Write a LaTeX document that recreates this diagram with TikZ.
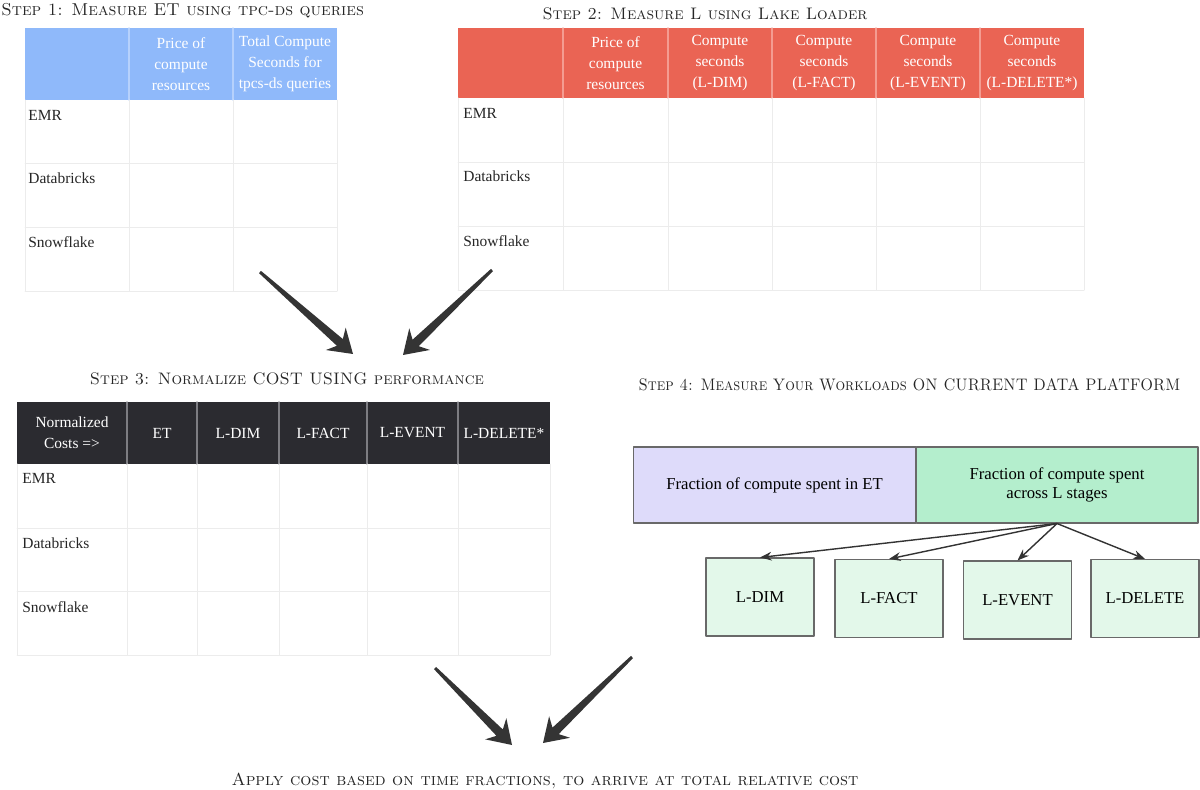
\documentclass[tikz,border=0pt]{standalone}
\usepackage{fontspec}
\newfontfamily\bodyfont{Liberation Serif}
\usetikzlibrary{arrows.meta,calc,positioning}
\definecolor{hdrblue}{RGB}{143,185,250}
\definecolor{sepblue}{RGB}{182,209,252}
\definecolor{hdrred}{RGB}{234,100,84}
\definecolor{sepred}{RGB}{244,156,145}
\definecolor{hdrdark}{RGB}{43,43,48}
\definecolor{sepdark}{RGB}{125,125,130}
\definecolor{gridgray}{RGB}{236,236,236}
\definecolor{etfill}{RGB}{222,219,250}
\definecolor{lfill}{RGB}{180,238,205}
\definecolor{stagefill}{RGB}{227,248,234}
\definecolor{boxline}{RGB}{105,105,105}
\definecolor{arrowgray}{RGB}{52,52,52}

\newcommand{\fatarrow}[2]{%
  \coordinate (fa-h) at ($(#2)!0.35cm!(#1)$);
  \coordinate (fa-b) at ($(#2)!0.46cm!(#1)$);
  \fill[arrowgray] ($(#1)!0.03cm!90:(#2)$) -- ($(fa-h)!0.09cm!90:(#2)$) -- ($(fa-b)!0.3cm!90:(#2)$) -- (#2)
    -- ($(fa-b)!0.3cm!-90:(#2)$) -- ($(fa-h)!0.09cm!-90:(#2)$) -- ($(#1)!0.03cm!-90:(#2)$) -- cycle;}

\begin{document}
\begin{tikzpicture}[line cap=round,line join=round,>=Stealth,x=0.02cm,y=-0.02cm,
  steptitle/.style={font=\fontsize{9.5}{11}\selectfont\scshape,text=black!85,inner sep=0pt},
  hdrtext/.style={font=\bodyfont\fontsize{8.8}{12}\selectfont,text=white,align=center,inner sep=0pt},
  rowlabel/.style={font=\bodyfont\fontsize{8.8}{10}\selectfont,text=black!85,anchor=west,inner sep=0pt},
  gridline/.style={draw=gridgray,line width=0.5pt},
  fracbox/.style={draw=boxline,line width=0.6pt,minimum height=1.52cm,align=center,font=\bodyfont\fontsize{9.5}{11}\selectfont},
  stagebox/.style={draw=boxline,fill=stagefill,line width=0.6pt,minimum width=2.16cm,minimum height=1.56cm,font=\bodyfont\fontsize{9.5}{11}\selectfont},
  conn/.style={->,line width=0.8pt,draw=black!80}]
\useasboundingbox (0,0) rectangle (1200,790);

% step 1
\node[steptitle,anchor=west,font=\fontsize{9.8}{11}\selectfont\scshape] (title1) at (1,11) {Step 1: Measure ET using tpc-ds queries};
\fill[hdrblue] (25,28) rectangle (337,100);
\foreach \x in {129,233} \draw[sepblue,line width=0.6pt] (\x,28) -- (\x,100);
\foreach \y in {163,227,291} \draw[gridline] (25,\y) -- (337,\y);
\foreach \x in {25,129,233,337} \draw[gridline] (\x,100) -- (\x,291);
\node[hdrtext] (t1price) at (181,64) {Price of\\compute\\resources};
\node[hdrtext] (t1secs) at (285,64) {Total Compute\\Seconds for\\tpcs-ds queries};
\node[rowlabel] (t1emr) at (28,115) {EMR};
\node[rowlabel] (t1dbx) at (28,178) {Databricks};
\node[rowlabel] (t1snow) at (28,242) {Snowflake};

% step 2
\node[steptitle] (title2) at (705,14) {Step 2: Measure L using Lake Loader};
\fill[hdrred] (458,28) rectangle (1084,98);
\foreach \x in {563,668,772,876,980} \draw[sepred,line width=0.6pt] (\x,28) -- (\x,98);
\foreach \y in {162,226,290} \draw[gridline] (458,\y) -- (1084,\y);
\foreach \x in {458,563,668,772,876,980,1084} \draw[gridline] (\x,98) -- (\x,290);
\node[hdrtext] (t2price) at (615.5,63) {Price of\\compute\\resources};
\node[hdrtext] (t2dim) at (720,63) {Compute\\seconds\\(L-DIM)};
\node[hdrtext] (t2fact) at (824,63) {Compute\\seconds\\(L-FACT)};
\node[hdrtext] (t2event) at (928,63) {Compute\\seconds\\(L-EVENT)};
\node[hdrtext] (t2delete) at (1032,63) {Compute\\seconds\\(L-DELETE*)};
\node[rowlabel] (t2emr) at (463,113) {EMR};
\node[rowlabel] (t2dbx) at (463,176) {Databricks};
\node[rowlabel] (t2snow) at (463,241) {Snowflake};

% arrows into step 3
\coordinate (a1tail) at (260,272);
\coordinate (a1tip) at (353,354);
\coordinate (a2tail) at (492,270);
\coordinate (a2tip) at (403,355);
\fatarrow{a1tail}{a1tip}
\fatarrow{a2tail}{a2tip}

% step 3
\node[steptitle] (title3) at (287,379) {Step 3: Normalize COST USING performance};
\fill[hdrdark] (17,402) rectangle (550,464);
\foreach \x in {127,197,279,367,458} \draw[sepdark,line width=0.6pt] (\x,402) -- (\x,464);
\foreach \y in {528,591,655} \draw[gridline] (17,\y) -- (550,\y);
\foreach \x in {17,127,197,279,367,458,550} \draw[gridline] (\x,464) -- (\x,655);
\node[hdrtext] (t3norm) at (72,433) {Normalized\\Costs =>};
\node[hdrtext] (t3et) at (162,433) {ET};
\node[hdrtext] (t3dim) at (238,433) {L-DIM};
\node[hdrtext] (t3fact) at (323,433) {L-FACT};
\node[hdrtext] (t3event) at (412.5,433) {L-EVENT};
\node[hdrtext] (t3delete) at (504,433) {L-DELETE*};
\node[rowlabel] (t3emr) at (22,478) {EMR};
\node[rowlabel] (t3dbx) at (22,543) {Databricks};
\node[rowlabel] (t3snow) at (22,607) {Snowflake};

% step 4
\node[steptitle] (title4) at (909.5,385) {\scalebox{0.91}[1]{Step 4: Measure Your Workloads ON CURRENT DATA PLATFORM}};
\node[fracbox,fill=etfill,minimum width=5.66cm] (etfrac) at (774.5,485) {Fraction of compute spent in ET};
\node[fracbox,fill=lfill,minimum width=5.64cm] (lfrac) at (1057,485) {Fraction of compute spent\\across L stages};
\node[stagebox] (ldim) at (760,597) {L-DIM};
\node[stagebox] (lfact) at (889,598.5) {L-FACT};
\node[stagebox] (levent) at (1017.5,600) {L-EVENT};
\node[stagebox] (ldelete) at (1145,598.5) {L-DELETE};
\draw[conn] (lfrac.south) -- (ldim.north);
\draw[conn] (lfrac.south) -- (lfact.north);
\draw[conn] (lfrac.south) -- (levent.north);
\draw[conn] (lfrac.south) -- (ldelete.north);

% arrows into the result
\coordinate (a3tail) at (435,668);
\coordinate (a3tip) at (512,745);
\coordinate (a4tail) at (632,657);
\coordinate (a4tip) at (543,743);
\fatarrow{a3tail}{a3tip}
\fatarrow{a4tail}{a4tip}

\node[steptitle,font=\fontsize{9.9}{11}\selectfont\scshape] (result) at (545,781) {Apply cost based on time fractions, to arrive at total relative cost};
\end{tikzpicture}
\end{document}
